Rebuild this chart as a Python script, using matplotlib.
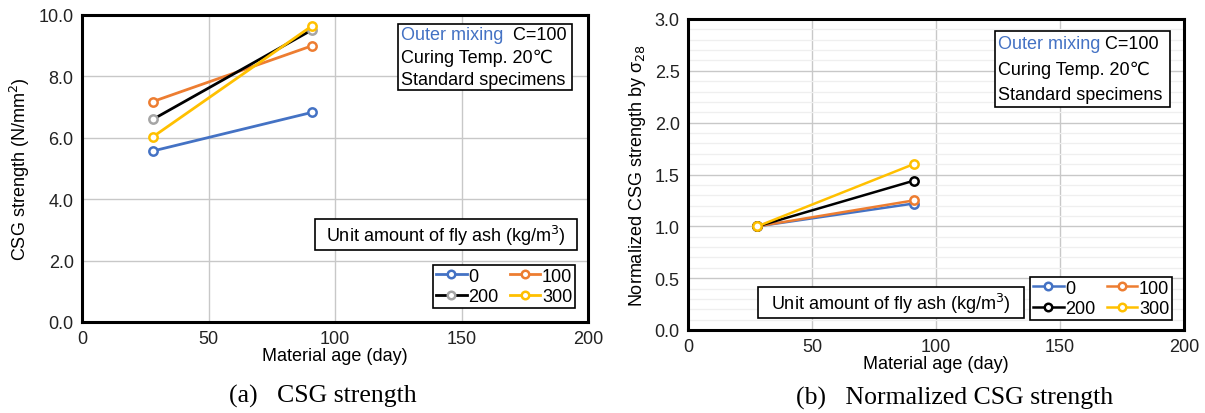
import matplotlib
matplotlib.use("Agg")
import matplotlib.pyplot as plt
from matplotlib.patches import Rectangle
from matplotlib.ticker import MultipleLocator

plt.rcParams['font.family'] = ['Liberation Sans', 'DejaVu Sans']

ages = [28, 91]
labels = ['0', '100', '200', '300']
strength_0 = [5.57, 6.83]
strength_100 = [7.18, 9.00]
strength_200 = [6.60, 9.52]
strength_300 = [6.03, 9.65]
norm_0 = [1.00, 1.22]
norm_100 = [1.00, 1.25]
norm_200 = [1.00, 1.44]
norm_300 = [1.00, 1.60]

line_colors = ['#4472C4', '#ED7D31', '#000000', '#FFC000']
marker_colors_a = ['#4472C4', '#ED7D31', '#A5A5A5', '#FFC000']
marker_colors_b = ['#4472C4', '#ED7D31', '#000000', '#FFC000']

fig = plt.figure(figsize=(12.05, 4.14), dpi=100)
axa = fig.add_axes([82/1205, (414-323)/414, 506/1205, 307/414])
axb = fig.add_axes([688/1205, (414-331)/414, 496/1205, 311/414])

fs = 13

def style(ax, ymax, ystep, minor=False):
    ax.set_xlim(0, 200)
    ax.set_ylim(0, ymax)
    ax.xaxis.set_major_locator(MultipleLocator(50))
    ax.yaxis.set_major_locator(MultipleLocator(ystep))
    ax.grid(True, which='major', color='#C8C8C8', lw=1.0)
    if minor:
        ax.yaxis.set_minor_locator(MultipleLocator(0.1))
        ax.grid(True, which='minor', axis='y', color='#EFEFEF', lw=0.9)
        ax.tick_params(which='minor', length=0)
    ax.set_axisbelow(True)
    for s in ax.spines.values():
        s.set_linewidth(2.2)
        s.set_color('black')
    ax.tick_params(length=0, labelsize=fs, pad=6, colors='#222222')
    ax.set_xlabel('Material age (day)', fontsize=fs, labelpad=0)

style(axa, 10, 2)
axa.yaxis.set_major_formatter(lambda v, p: f'{v:.1f}')
style(axb, 3.0, 0.5, minor=True)
axb.yaxis.set_major_formatter(lambda v, p: f'{v:.1f}')

series_a = [strength_0, strength_100, strength_200, strength_300]
series_b = [norm_0, norm_100, norm_200, norm_300]

ha = []
for vals, lc, mc, lab in zip(series_a, line_colors, marker_colors_a, labels):
    h, = axa.plot(ages, vals, color=lc, lw=2.0, marker='o', ms=6,
                  mfc='white', mec=mc, mew=1.8, label=lab, zorder=3)
    ha.append(h)
hb = []
for vals, lc, mc, lab in zip(series_b, line_colors, marker_colors_b, labels):
    h, = axb.plot(ages, vals, color=lc, lw=1.8, marker='o', ms=6,
                  mfc='white', mec=mc, mew=1.8, label=lab, zorder=3)
    hb.append(h)

axa.set_ylabel('CSG strength (N/mm$^2$)', fontsize=fs, labelpad=5)
axb.set_ylabel('Normalized CSG strength by σ$_{28}$', fontsize=fs, labelpad=5)

def legend(ax, handles, anchor):
    order = [handles[0], handles[2], handles[1], handles[3]]
    lg = ax.legend(handles=order, ncol=2, loc='lower right', bbox_to_anchor=anchor,
                   fontsize=fs, frameon=True, fancybox=False, edgecolor='black',
                   framealpha=1, handlelength=1.7, handletextpad=0.1,
                   columnspacing=0.6, borderpad=0.15, labelspacing=0.2,
                   markerscale=0.9, borderaxespad=0)
    lg.get_frame().set_linewidth(1.2)
    return lg

def to_axes(ax, x0, y0, x1, y1, left, top, right, bottom):
    return ((x0-left)/(right-left), (bottom-y1)/(bottom-top),
            (x1-x0)/(right-left), (y1-y0)/(bottom-top))

def box(ax, px, axbox):
    x, y, w, h = to_axes(ax, *px, *axbox)
    ax.add_patch(Rectangle((x, y), w, h, transform=ax.transAxes, fill=True,
                           facecolor='white', edgecolor='black', lw=1.2, zorder=4,
                           clip_on=False))
    return x, y, w, h

A = (82, 16, 588, 323)
B = (688, 20, 1184, 331)

legend(axa, ha, ((575-82)/506, (323-309)/307))
legend(axb, hb, ((1172-688)/496, (331-321)/311))

def info(ax, px, axbox, gap):
    x, y, w, h = box(ax, px, axbox)
    tx = x + 3/(axbox[2]-axbox[0])
    ytop = y + h
    lh = h / 3
    t1 = ax.text(tx, ytop - lh*0.5, 'Outer mixing', color='#4472C4', fontsize=fs,
                 transform=ax.transAxes, va='center', ha='left', zorder=5)
    ax.annotate(gap + 'C=100', xy=(1, 0.5), xycoords=t1, va='center', ha='left',
                fontsize=fs, zorder=5)
    ax.text(tx, ytop - lh*1.5, 'Curing Temp. 20℃', fontsize=fs,
            transform=ax.transAxes, va='center', ha='left', zorder=5,
            family=['Liberation Sans', 'DejaVu Sans'])
    ax.text(tx, ytop - lh*2.5, 'Standard specimens', fontsize=fs,
            transform=ax.transAxes, va='center', ha='left', zorder=5)

info(axa, (398, 25, 572, 91), A, '  ')
info(axb, (995, 32, 1170, 108), B, ' ')

def title_box(ax, px, axbox):
    x, y, w, h = box(ax, px, axbox)
    ax.text(x + w/2, y + h/2, 'Unit amount of fly ash (kg/m$^3$)', fontsize=fs,
            transform=ax.transAxes, va='center', ha='center', zorder=5)

title_box(axa, (315, 220, 577, 251), A)
title_box(axb, (758, 288, 1024, 319), B)

fig.text(323/1205, 1 - 396/414, '(a)   CSG strength', family='Liberation Serif',
         fontsize=18.5, ha='center', va='center')
fig.text(955/1205, 1 - 398/414, '(b)   Normalized CSG strength', family='Liberation Serif',
         fontsize=18.5, ha='center', va='center')

fig.savefig('out.png', dpi=100)
